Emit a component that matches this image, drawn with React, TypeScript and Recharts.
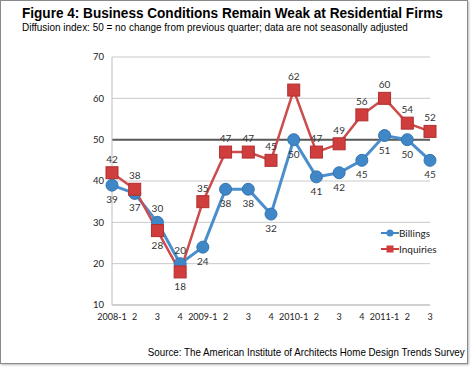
import React from "react";
import {
  LineChart,
  Line,
  XAxis,
  YAxis,
  CartesianGrid,
  ReferenceLine,
  Legend,
} from "recharts";

const quarters = ["2008-1", "2", "3", "4", "2009-1", "2", "3", "4", "2010-1", "2", "3", "4", "2011-1", "2", "3"];
const billings = [39, 37, 30, 20, 24, 38, 38, 32, 50, 41, 42, 45, 51, 50, 45];
const inquiries = [42, 38, 28, 18, 35, 47, 47, 45, 62, 47, 49, 56, 60, 54, 52];
const yTicks = [10, 20, 30, 40, 50, 60, 70];

// label sits above for these indexes on billings, below on inquiries
const flipped = [2, 3];

const data = quarters.map((q, i) => ({
  key: i,
  quarter: q,
  billings: billings[i],
  inquiries: inquiries[i],
}));

const BLUE = "#3f87c7";
const RED = "#cf3d3d";
const labelFont = "Lato, 'Open Sans', sans-serif";

const makeLabel = (series: "billings" | "inquiries") => (props: any) => {
  const { x, y, value, index } = props;
  const isFlip = flipped.includes(index);
  const above = series === "inquiries" ? !isFlip : isFlip;
  return (
    <text
      x={x}
      y={above ? y - 14 : y + 14}
      textAnchor="middle"
      dominantBaseline="central"
      fontSize={10}
      fontFamily={labelFont}
      fill="#333"
    >
      {value}
    </text>
  );
};

const SquareDot = (props: any) => {
  const { cx, cy } = props;
  if (cx == null || cy == null) return null;
  return <rect x={cx - 6} y={cy - 6} width={12} height={12} fill={RED} stroke="#b03030" strokeWidth={1} />;
};

const LegendBox = () => (
  <div style={{ fontFamily: labelFont, fontSize: 10, color: "#222", lineHeight: "16px" }}>
    {[
      { name: "Billings", color: BLUE, shape: "circle" },
      { name: "Inquiries", color: RED, shape: "square" },
    ].map((e) => (
      <div key={e.name} style={{ display: "flex", alignItems: "center" }}>
        <svg width={18} height={10}>
          <line x1={0} y1={5} x2={18} y2={5} stroke={e.color} strokeWidth={2} />
          {e.shape === "circle" ? (
            <circle cx={9} cy={5} r={3.5} fill={e.color} />
          ) : (
            <rect x={5.5} y={1.5} width={7} height={7} fill={e.color} />
          )}
        </svg>
        <span>{e.name}</span>
      </div>
    ))}
  </div>
);

export default function App() {
  return (
    <div
      style={{
        position: "absolute",
        left: 0,
        top: 0,
        width: 471,
        height: 367,
        background: "#fff",
        fontFamily: "'Liberation Sans', Arial, sans-serif",
      }}
    >
      <div
        style={{
          position: "absolute",
          left: 0,
          top: 0,
          width: 466,
          height: 362,
          border: "1px solid #8a8a8a",
          boxShadow: "1px 1px 2px #bbb",
        }}
      />
      <div
        style={{
          position: "absolute",
          left: 22,
          top: 5,
          fontSize: 14,
          fontWeight: "bold",
          color: "#000",
          whiteSpace: "nowrap",
          transform: "scaleX(0.97)",
          transformOrigin: "left",
        }}
      >
        Figure 4: Business Conditions Remain Weak at Residential Firms
      </div>
      <div
        style={{
          position: "absolute",
          left: 22,
          top: 21,
          fontSize: 11,
          color: "#000",
          whiteSpace: "nowrap",
          transform: "scaleX(0.905)",
          transformOrigin: "left",
        }}
      >
        Diffusion index: 50 = no change from previous quarter; data are not seasonally adjusted
      </div>
      <div
        style={{
          position: "absolute",
          right: 6,
          top: 346,
          fontSize: 10.5,
          color: "#000",
          whiteSpace: "nowrap",
          transform: "scaleX(0.93)",
          transformOrigin: "right",
        }}
      >
        Source: The American Institute of Architects Home Design Trends Survey
      </div>
      <div style={{ position: "absolute", left: 0, top: 0 }}>
        <LineChart width={471} height={367} data={data} margin={{ top: 57, right: 41, left: 0, bottom: 42 }}>
          <CartesianGrid vertical={false} stroke="#c9c9c9" />
          <XAxis
            dataKey="key"
            tickFormatter={(v: number) => quarters[v]}
            interval={0}
            height={20}
            tickLine={false}
            tickSize={0}
            tickMargin={9}
            axisLine={{ stroke: "#bdbdbd" }}
            tick={{ fill: "#222", fontSize: 9, fontFamily: labelFont }}
          />
          <YAxis
            domain={[10, 70]}
            ticks={yTicks}
            width={32}
            tickLine={false}
            tickSize={0}
            tickMargin={8}
            axisLine={{ stroke: "#bdbdbd" }}
            tick={{ fill: "#222", fontSize: 9.5, fontFamily: labelFont }}
          />
          <ReferenceLine y={50} stroke="#595959" strokeWidth={2} />
          <Legend
            layout="vertical"
            verticalAlign="top"
            align="left"
            wrapperStyle={{ left: 381, top: 225, width: 80 }}
            content={<LegendBox />}
          />
          <Line
            dataKey="billings"
            name="Billings"
            stroke="#4a8ecd"
            strokeWidth={3}
            dot={{ r: 6, fill: BLUE, stroke: "#3575b0", strokeWidth: 1 }}
            activeDot={false}
            label={makeLabel("billings")}
            isAnimationActive={false}
          />
          <Line
            dataKey="inquiries"
            name="Inquiries"
            stroke="#cc4b4b"
            strokeWidth={2.5}
            dot={<SquareDot />}
            activeDot={false}
            label={makeLabel("inquiries")}
            isAnimationActive={false}
          />
        </LineChart>
      </div>
    </div>
  );
}
